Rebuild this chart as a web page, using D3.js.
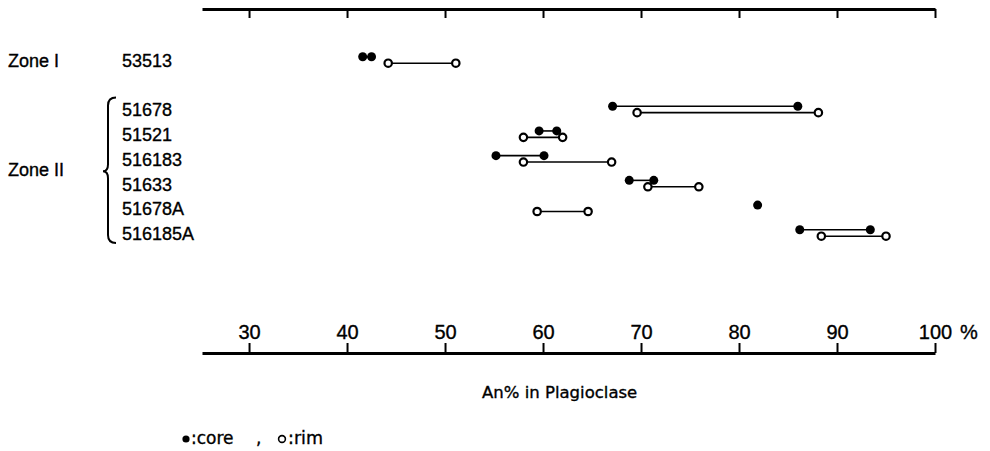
<!DOCTYPE html>
<html>
<head>
<meta charset="utf-8">
<script src="https://cdn.jsdelivr.net/npm/d3@7"></script>
<style>
  body { margin: 0; background: #fff; }
  svg { display: block; font-family: "Liberation Sans", Arial, sans-serif; }
  text { fill: #000; stroke: #000; stroke-width: 0.35px; }
</style>
</head>
<body>
<svg id="chart" width="990" height="451"></svg>
<script>
// ---- data ----
const samples = ["53513", "", "51678", "51521", "516183", "51633", "51678A", "516185A"];
const zones = [
  { name: "Zone I", rows: ["53513"] },
  { name: "Zone II", rows: ["51678", "51521", "516183", "51633", "51678A", "516185A"] }
];
// An% ranges: core (filled) and rim (open)
const coreValues = {
  "53513": [41.6, 42.5],
  "51678": [67.1, 86.0],
  "51521": [59.6, 61.4],
  "516183": [55.2, 60.1],
  "51633": [68.8, 71.3],
  "51678A": [81.9],
  "516185A": [86.2, 93.4]
};
const rimValues = {
  "53513": [44.2, 51.1],
  "51678": [69.6, 88.1],
  "51521": [58.0, 62.0],
  "516183": [58.0, 67.0],
  "51633": [70.7, 75.9],
  "51678A": [59.4, 64.6],
  "516185A": [88.4, 95.0]
};
const tickValues = [30, 40, 50, 60, 70, 80, 90, 100];
const axisTitle = "An% in Plagioclase";

// ---- scales ----
const svg = d3.select("#chart");
const x = d3.scaleLinear().domain([25.2, 100]).range([202, 935]);
const y = d3.scalePoint().domain(samples).range([60, 233]);
const off = 3.2;

// ---- axes ----
const topAxis = svg.append("g").attr("transform", "translate(0,9)")
  .call(d3.axisBottom(x).tickValues(tickValues).tickSize(9).tickSizeOuter(0).tickFormat(""));
const botAxis = svg.append("g").attr("transform", "translate(0,353)")
  .call(d3.axisTop(x).tickValues(tickValues).tickSize(10).tickSizeOuter(0).tickPadding(4));
[topAxis, botAxis].forEach(g => {
  g.select(".domain").attr("stroke", "#000").attr("stroke-width", 3);
  g.selectAll(".tick line").attr("stroke", "#000").attr("stroke-width", 2);
  g.selectAll(".tick text").attr("fill", "#000").attr("font-size", 20)
    .attr("font-family", "Liberation Sans, Arial, sans-serif");
});
svg.append("text").attr("x", 960).attr("y", 339).attr("font-size", 20).text("%");
svg.append("text").attr("x", 482).attr("y", 398).attr("font-size", 16.5)
  .attr("font-family", "DejaVu Sans, sans-serif").attr("stroke-width", 0.2).text(axisTitle);

// legend
svg.append("circle").attr("cx", 186).attr("cy", 439).attr("r", 3.6).attr("fill", "#000");
svg.append("text").attr("x", 191).attr("y", 444).attr("font-size", 17)
  .attr("font-family", "DejaVu Sans, sans-serif").attr("stroke-width", 0.2).text(":core");
svg.append("text").attr("x", 256).attr("y", 444).attr("font-size", 17)
  .attr("font-family", "DejaVu Sans, sans-serif").attr("stroke-width", 0.2).text(",");
svg.append("circle").attr("cx", 282).attr("cy", 439).attr("r", 3.4).attr("fill", "#fff")
  .attr("stroke", "#000").attr("stroke-width", 1.6);
svg.append("text").attr("x", 288).attr("y", 444).attr("font-size", 17.5)
  .attr("font-family", "DejaVu Sans, sans-serif").attr("stroke-width", 0.2).text(":rim");

// ---- labels ----
zones.forEach(z => {
  z.rows.forEach(r => {
    svg.append("text").attr("x", 122).attr("y", y(r) + 7).attr("font-size", 18).text(r);
  });
});
svg.append("text").attr("x", 8).attr("y", y("53513") + 7).attr("font-size", 18).text("Zone I");
const z2 = zones[1].rows;
const yTop = y(z2[0]) - 12, yBot = y(z2[z2.length - 1]) + 10;
const yMid = (y("516183") + y("51633")) / 2;
svg.append("text").attr("x", 8).attr("y", yMid + 5).attr("font-size", 18).text("Zone II");
svg.append("path")
  .attr("d", `M116,${yTop} Q108,${yTop} 108,${yTop + 8} L108,${yMid - 7} Q108,${yMid} 103,${yMid}
              Q108,${yMid} 108,${yMid + 7} L108,${yBot - 8} Q108,${yBot} 116,${yBot}`)
  .attr("fill", "none").attr("stroke", "#000").attr("stroke-width", 2);

// ---- marks ----
const marks = svg.append("g");
function drawSeries(vals, dy, filled) {
  Object.keys(vals).forEach(k => {
    const v = vals[k];
    const yy = y(k) + dy;
    if (v.length > 1) {
      marks.append("line").attr("x1", x(d3.min(v))).attr("x2", x(d3.max(v)))
        .attr("y1", yy).attr("y2", yy).attr("stroke", "#000").attr("stroke-width", 1.6);
    }
  });
  return () => Object.keys(vals).forEach(k => {
    const yy = y(k) + dy;
    marks.selectAll(null).data(vals[k]).enter().append("circle")
      .attr("cx", d => x(d)).attr("cy", yy).attr("r", filled ? 4.5 : 3.7)
      .attr("fill", filled ? "#000" : "#fff")
      .attr("stroke", "#000").attr("stroke-width", filled ? 0 : 2.2);
  });
}
const dc = drawSeries(coreValues, -off, true);
const dr = drawSeries(rimValues, off, false);
dc(); dr();
</script>
</body>
</html>
